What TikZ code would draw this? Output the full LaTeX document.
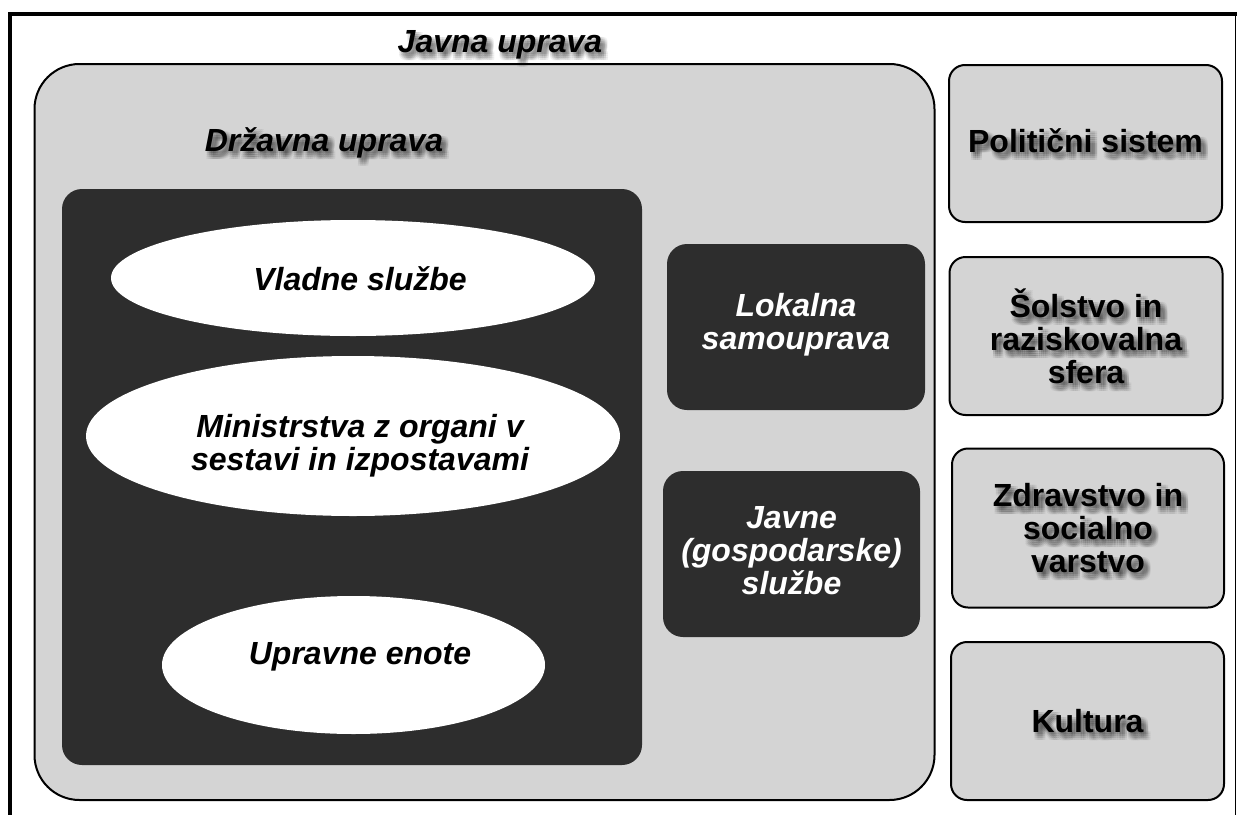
\documentclass[tikz,border=0pt]{standalone}
\usepackage{fontspec}
\setmainfont{Liberation Sans}
\usetikzlibrary{shapes.geometric}
\definecolor{lgray}{RGB}{212,212,212}
\definecolor{dgray}{RGB}{45,45,45}
\newcommand\shadowed[4]{%
  \foreach \dx in {1,3,5,7}{\foreach \dy in {2,4,6,8}{%
    \node[#3, text=black, text opacity=0.055] (#1-s\dx-\dy) at ([shift={(\dx,\dy)}] #2) {#4};}}
  \node[#3] (#1) at (#2) {#4};}
\begin{document}
\begin{tikzpicture}[x=1pt,y=-1pt,
  txt/.style={font=\fontsize{32}{33}\selectfont\bfseries, align=center, inner sep=0pt},
  itxt/.style={font=\fontsize{32}{33}\selectfont\bfseries\itshape, align=center, inner sep=0pt},
  graybox/.style={draw=black, line width=2pt, fill=lgray, rounded corners=16pt, inner sep=0pt},
  bigbox/.style={draw=black, line width=2pt, fill=lgray, rounded corners=45pt, inner sep=0pt},
  darkbox/.style={fill=dgray, rounded corners=20pt, inner sep=0pt, text=white},
  ell/.style={ellipse, fill=white, inner sep=0pt}]
\useasboundingbox (0,0) rectangle (1237,814);
\fill[white] (0,0) rectangle (1237,814);
% outer frame
\coordinate (ftl) at (10,14);
\coordinate (ftr) at (1235,14);
\coordinate (fbl) at (10,816);
\coordinate (fbr) at (1235,816);
\draw[line width=3.5pt, line cap=rect] (fbl) -- (ftl) -- (ftr);
\draw[line width=1pt] (ftr) -- (fbr);
% public administration container
\node[bigbox, minimum width=900pt, minimum height=736pt] (javna) at (484.5,432) {};
\shadowed{javnat}{500,52}{itxt, anchor=base}{Javna uprava}
\shadowed{drzt}{324,151}{itxt, anchor=base}{Državna uprava}
% state administration (dark)
\node[darkbox, minimum width=580pt, minimum height=576pt] (drz) at (352,477) {};
\node[ell, minimum width=484pt, minimum height=116pt] (vladne) at (353,278) {};
\node[ell, minimum width=534pt, minimum height=160pt] (min) at (353,436) {};
\node[ell, minimum width=383pt, minimum height=138pt] (upr) at (353.5,665) {};
\node[itxt] (vladnet) at (360,279) {Vladne službe};
\node[itxt] (mint) at (360,446) {Ministrstva z organi v\\sestavi in izpostavami};
\node[itxt] (uprt) at (360,657) {Upravne enote};
% local self-government and public services
\node[darkbox, minimum width=258pt, minimum height=166pt] (lok) at (796,327) {};
\node[darkbox, minimum width=257pt, minimum height=166pt] (jsl) at (791.5,554) {};
\node[itxt, text=white] (lokt) at ([yshift=2pt]lok.center) {Lokalna\\samouprava};
\node[itxt, text=white] (jslt) at ([yshift=3pt]jsl.center) {Javne\\(gospodarske)\\službe};
% right column
\node[graybox, minimum width=273pt, minimum height=157pt] (pol) at (1085.5,143.5) {};
\node[graybox, minimum width=273pt, minimum height=158pt] (sol) at (1086,336) {};
\node[graybox, minimum width=272pt, minimum height=159pt] (zdr) at (1088,528) {};
\node[graybox, minimum width=273pt, minimum height=158pt] (kul) at (1087.5,721) {};
\shadowed{polt}{1085.5,141}{txt}{Politični sistem}
\shadowed{solt}{sol.center}{txt}{Šolstvo in\\raziskovalna\\sfera}
\shadowed{zdrt}{zdr.center}{txt}{Zdravstvo in\\socialno\\varstvo}
\shadowed{kult}{kul.center}{txt}{Kultura}
\end{tikzpicture}
\end{document}
